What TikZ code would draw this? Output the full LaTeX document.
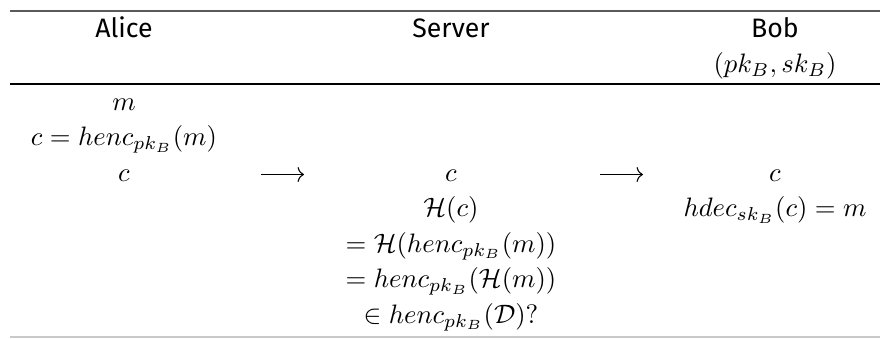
\documentclass[tikz,border=0pt]{standalone}
\usepackage{amsmath,amssymb}
\usepackage{fontspec}
\setsansfont{Fira Sans}
\usepackage{tikz}
\usetikzlibrary{arrows.meta}
\definecolor{topcol}{RGB}{90,90,90}
\definecolor{botcol}{RGB}{200,200,200}
\begin{document}
\begin{tikzpicture}[x=0.375pt,y=-0.375pt,
  party/.style={anchor=base,font=\sffamily,inner sep=0pt},
  cell/.style ={anchor=base,inner sep=0pt},
  msg/.style  ={-{To[length=2.4pt,width=5.6pt]},line width=0.4pt},
  toprule/.style={draw=topcol,line width=0.75pt},
  midrule/.style={draw=black,line width=0.55pt},
  botrule/.style={draw=botcol,line width=0.4pt}
]
\useasboundingbox (0,0) rectangle (880,338);
\def\xa{124}\def\xs{451}\def\xb{775}
% rules
\draw[toprule] (10,11) -- (880,11);
\draw[midrule] (10,84) -- (880,84);
\draw[botrule] (10,337) -- (880,337);
% header
\node[party] (alice)  at (\xa,37)   {Alice};
\node[party] (server) at (\xs,37)   {Server};
\node[party] (bob)    at (\xb,37)   {Bob};
\node[cell]  (keys)   at (\xb,72.5) {$(pk_B,sk_B)$};
% Alice
\node[cell] (am)   at (\xa,110)   {$m$};
\node[cell] (aenc) at (\xa,145.5) {$c=henc_{pk_B}(m)$};
\node[cell] (ac)   at (\xa,181)   {$c$};
% Server
\node[cell] (sc)   at (\xs,181)   {$c$};
\node[cell] (sh)   at (\xs,216.5) {$\mathcal{H}(c)$};
\node[cell] (seqa) at (\xs,252)   {$=\mathcal{H}(henc_{pk_B}(m))$};
\node[cell] (seqb) at (\xs,287.5) {$=henc_{pk_B}(\mathcal{H}(m))$};
\node[cell] (sin)  at (\xs,323)   {$\in henc_{pk_B}(\mathcal{D})$?};
% Bob
\node[cell] (bc)   at (\xb,181)   {$c$};
\node[cell] (bdec) at (\xb,216.5) {$hdec_{sk_B}(c)=m$};
% messages
\coordinate (m1s) at (261,174.5);
\coordinate (m1e) at (304,174.5);
\coordinate (m2s) at (600,174.5);
\coordinate (m2e) at (643,174.5);
\draw[msg] (m1s) -- (m1e);
\draw[msg] (m2s) -- (m2e);
\end{tikzpicture}
\end{document}
